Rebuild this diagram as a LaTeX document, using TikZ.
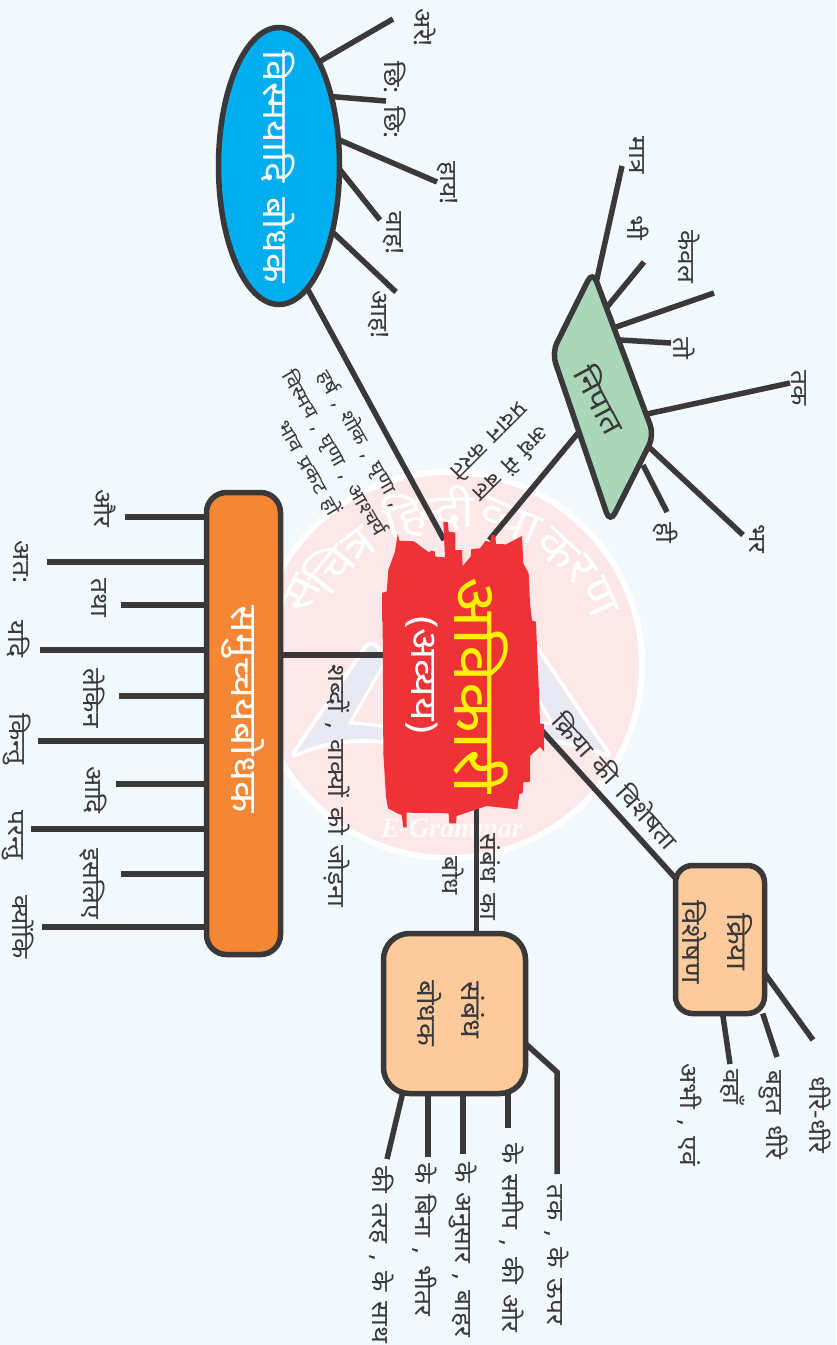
\documentclass[tikz,border=0pt]{standalone}
\usepackage{fontspec}
\setmainfont[Script=Devanagari,FakeStretch=1.1,WordSpace=1.5]{Noto Sans}
\newfontfamily\wmfont{Liberation Serif}
\usetikzlibrary{shapes.geometric,calc}
\definecolor{ink}{HTML}{3A3839}
\definecolor{bgc}{HTML}{F2F9FD}
\definecolor{pinkc}{HTML}{FCE8E9}
\definecolor{lavc}{HTML}{E9E9F3}
\definecolor{bluec}{HTML}{00AEEF}
\definecolor{orangec}{HTML}{F58634}
\definecolor{peachc}{HTML}{FDCA9C}
\definecolor{greenc}{HTML}{A9D7B7}
\definecolor{redc}{HTML}{EE3237}
\definecolor{yellowc}{HTML}{FFF200}
\pgfdeclarelayer{bg}
\pgfsetlayers{bg,main}
\newcommand{\fsz}[1]{\fontsize{#1}{#1}\selectfont}
\tikzset{
  x=1pt,y=-1pt,
  link/.style={draw=ink,line width=5.5pt},
  lbl/.style={font=\fsz{24},text=ink,inner sep=0pt,rotate=-90},
  shapebox/.style={draw=ink,line width=5.5pt,inner sep=0pt,outer sep=0pt},
  arcglyph/.style={font=\fsz{47},text=white,inner sep=0pt},
}
\begin{document}
\begin{tikzpicture}
\useasboundingbox (0,0) rectangle (836,1345);
% ---------- main shapes
\node[shapebox,ellipse,fill=bluec,minimum width=121pt,minimum height=277pt] (vis) at (279,166) {};
\node[lbl,font=\fsz{35},text=white] (vist) at (278,167) {विस्मयादि बोधक};
\node[shapebox,rectangle,rounded corners=20pt,fill=orangec,minimum width=74pt,minimum height=462pt] (sam) at (243.5,723.5) {};
\node[lbl,font=\fsz{37},text=white] (samt) at (243,709) {समुच्चयबोधक};
\node[shapebox,rectangle,rounded corners=26pt,fill=peachc,minimum width=142pt,minimum height=160pt] (sbd) at (454.5,1013.5) {};
\node[lbl,font=\fsz{28}] (sbdt1) at (473,1010) {संबंध};
\node[lbl,font=\fsz{27}] (sbdt2) at (430,1013) {बोधक};
\node[shapebox,rectangle,rounded corners=17pt,fill=peachc,minimum width=89pt,minimum height=148pt] (kri) at (720,939.5) {};
\node[lbl,font=\fsz{28}] (krit1) at (740,942) {क्रिया};
\node[lbl,font=\fsz{27}] (krit2) at (695,942) {विशेषण};
% nipat
\coordinate (nT) at (592.7,271);
\coordinate (nR) at (654,435.3);
\coordinate (nB) at (610,523);
\coordinate (nL) at (552,352.7);
\draw[draw=ink,line width=5.5pt,fill=greenc,rounded corners=11pt] (nT) -- (nR) -- (nB) -- (nL) -- cycle;
\node[lbl,font=\fsz{30},rotate=28] (nipat) at (601,399) {निपात};
% ---------- central blob
\begin{scope}[shift={(260,350)},x=0.33333pt,y=-0.33333pt]
\fill[redc] (413,552)--(418,572)--(462,574)--(508,608)--(512,602)--(524,604)--(526,620)--(555,622)--(550,515)--(564,517)--(566,545)--(586,548)--(586,600)--(606,600)--(608,648)--(632,620)--(634,597)--(660,595)--(676,573)--(692,575)--(694,555)--(706,555)--(708,582)--(738,583)--(786,558)--(790,640)--(806,670)--(810,760)--(816,812)--(828,815)--(832,920)--(838,1050)--(840,1120)--(852,1122)--(852,1205)--(840,1190)--(810,1218)--(810,1295)--(790,1297)--(788,1330)--(778,1332)--(772,1378)--(680,1368)--(590,1398)--(588,1420)--(568,1420)--(566,1390)--(440,1388)--(440,1432)--(430,1432)--(425,1395)--(412,1390)--(384,1375)--(378,1340)--(370,1210)--(368,815)--(366,815)--(366,728)--(380,725)--(385,660)--(405,605)--cycle;
\end{scope}
\node[draw=none,inner sep=0pt,outer sep=0pt,minimum width=152pt,minimum height=285pt] (main) at (459,682.5) {};
\node[lbl,font=\fsz{60},text=yellowc] (maint) at (481,686) {अविकारी};
\node[lbl,font=\fsz{37},text=white] (mains) at (422,675) {(अव्यय)};
% ---------- labels
\foreach \nm/\px/\py/\txt in {
 a1/425/28/अरे!, a2/395/100/छि: छि:, a3/447/183/हाय!, a4/393/233/वाह!, a5/378/315/आह!,
 b1/637/155/मात्र, b2/638/228/भी, b3/689/257/केवल, b4/684/348/तो, b5/799/388/तक, b6/666/533/ही, b7/757/539/भर,
 c1/105/508/और, c2/21/562/अत:, c3/99/598/तथा, c4/18/639/यदि, c5/94/698/लेकिन, c6/17/739/किन्तु, c7/95/790/आदि, c8/13/835/परन्तु, c9/92/884/इसलिए, c10/23/927/क्योंकि,
 d1/557/1255/{तक , के ऊपर}, d2/512/1238/{के समीप , की ओर}, d3/463/1250/{के अनुसार , बाहर}, d4/425/1240/{के बिना , भीतर}, d5/382/1255/{की तरह , के साथ},
 e1/820/1115/धीरे-धीरे, e2/773/1115/{बहुत धीरे}, e3/733/1087/वहाँ, e4/690/1115/{अभी , एवं},
 f1/337/786/{शब्दों , वाक्यों को जोड़ना}, f2/490/877/{संबंध का}, f3/453/876/बोध}
 {\node[lbl] (\nm) at (\px,\py) {\txt};}
\node[lbl,rotate=42] (f4) at (616,780) {क्रिया की विशेषता};
\node[lbl,rotate=30,font=\fsz{19.5},align=center] (f5) at (335,453) {हर्ष , शोक , घृणा ,\\[6pt]विस्मय , घृणा , आश्चर्य\\[6pt]भाव प्रकट हों};
\node[lbl,rotate=-45,font=\fsz{22},align=center] (f6) at (501,453) {अर्थ में बल\\[9pt]प्रदान करते};
% ---------- free ends
\coordinate (va) at (393,19);
\coordinate (vb) at (386,101);
\coordinate (vc) at (437,182);
\coordinate (vd) at (380,220);
\coordinate (ve) at (396,292);
\coordinate (na) at (622,166);
\coordinate (nb) at (644,262);
\coordinate (nc) at (714,293);
\coordinate (nd) at (671,343);
\coordinate (ne) at (790,383);
\coordinate (nf) at (667,512);
\coordinate (ng) at (743,535);
\coordinate (nas) at (596.7,280);
\coordinate (nbs) at (607,307);
\coordinate (ncs) at (616,327);
\coordinate (nds) at (620,340);
\coordinate (nes) at (647,414);
\coordinate (nfs) at (643,465);
\coordinate (ngs) at (650,448);
\coordinate (nms) at (578,433);
\coordinate (mb) at (476.7,780);
\coordinate (sab) at (557,1072);
\coordinate (sae) at (557,1174);
\coordinate (sb) at (508,1128);
\coordinate (sc) at (463,1154);
\coordinate (sd) at (428,1157);
\coordinate (se) at (387,1159);
\coordinate (ka) at (813,1040);
\coordinate (kb) at (777,1057);
\coordinate (kc) at (730,1064);
% ---------- back layer
\begin{pgfonlayer}{bg}
\fill[bgc] (0,0) rectangle (836,1345);
% watermark
\fill[pinkc] (449,665) circle[radius=193pt];
\draw[white,line width=6pt] (449,665) circle[radius=193pt];
\foreach \nm/\fc in {l/1,r/-1}{
  \draw[white,line width=4pt,fill=lavc,rounded corners=8pt] ({451+\fc*(-81)},640) -- ({451+\fc*(-161)},758) .. controls ({451+\fc*(-110)},735) and ({451+\fc*(-60)},740) .. ({451+\fc*(-40)},752) -- ({451+\fc*(-20)},700) -- cycle;
  \draw[white,line width=3pt,fill=pinkc] ({451+\fc*(-66)},662) -- ({451+\fc*(-101)},723) .. controls ({451+\fc*(-75)},724) and ({451+\fc*(-55)},728) .. ({451+\fc*(-40)},735) -- cycle;
}
\foreach \ga/\gr/\gt in {154.5/163/स,141/156/चि,127/150/त्र,107/155/हि,91/157/न्दी,67/157/व्या,47/158/क,36/162/र,24.5/164/ण}
  {\node[arcglyph,rotate={\ga-90}] at ({449+\gr*cos(\ga)},{665-\gr*sin(\ga)}) {\gt};}
\node[font=\wmfont\bfseries\itshape\fsz{28},text=white,opacity=.8,inner sep=0pt] (egr) at (452,828) {E-Grammar};
% connectors
\draw[link] (vis.69) -- (va);
\draw[link] (vis.53.5) -- (vb);
\draw[link] (vis.24.3) -- (vc);
\draw[link] (vis.-3) -- (vd);
\draw[link] (vis.-51.4) -- (ve);
\draw[link] (vis.-77) -- (main.96.1);
\draw[link] (nms) -- (main.78.9);
\draw[link] (sam.east |- main.160.8) -- (main.160.8);
\draw[link] (sbd.north -| mb) -- (mb);
\draw[link] (kri.126) -- (main.-28);
\draw[link] (nas) -- (na);
\draw[link] (nbs) -- (nb);
\draw[link] (ncs) -- (nc);
\draw[link] (nds) -- (nd);
\draw[link] (nes) -- (ne);
\draw[link] (nfs) -- (nf);
\draw[link] (ngs) -- (ng);
\foreach \i/\fx/\fy in {1/125/517,2/47/562,3/121/605,4/40/650,5/119/696,6/38/741,7/116/784,8/31/829,9/121/874,10/42/927}
  {\coordinate (s\i) at (\fx,\fy); \draw[link] (s\i) -- (s\i -| sam.west);}
\draw[link] (sbd.-23) -- (sab) -- (sae);
\draw[link] (sb |- sbd.south) -- (sb);
\draw[link] (sc |- sbd.south) -- (sc);
\draw[link] (sd |- sbd.south) -- (sd);
\draw[link] (sbd.-123.3) -- (se);
\draw[link] (kri.-37) -- (ka);
\draw[link] (kri.-60) -- (kb);
\draw[link] (kri.-88.5) -- (kc);
\end{pgfonlayer}
\end{tikzpicture}
\end{document}
